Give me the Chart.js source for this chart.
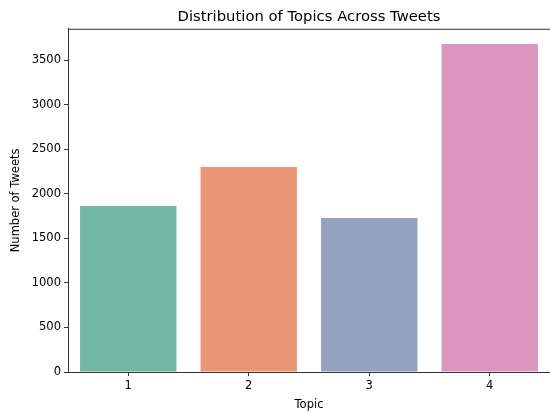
<!DOCTYPE html>
<html>
<head>
<meta charset="utf-8">
<script src="https://cdn.jsdelivr.net/npm/chart.js@4"></script>
<style>
  html, body { margin: 0; padding: 0; background: #fff; }
  #wrap { width: 550px; height: 412px; }
</style>
</head>
<body>
<div id="wrap"><canvas id="topicChart" width="550" height="412"></canvas></div>
<script>
// data
const topics = ["1", "2", "3", "4"];
const tweetCounts = [1862, 2300, 1728, 3679];
const barColors = ["#72b7a1", "#e99675", "#95a3c3", "#db96c0"];
const yTicks = [0, 500, 1000, 1500, 2000, 2500, 3000, 3500];
const yMax = 3851;

const font = "'DejaVu Sans', sans-serif";

// matplotlib-style top spine
const frameLine = {
    id: "frameLine",
    afterDraw(chart) {
        const { ctx, chartArea } = chart;
        ctx.save();
        ctx.strokeStyle = "#333";
        ctx.lineWidth = 1;
        ctx.beginPath();
        ctx.moveTo(chartArea.left, chartArea.top + 0.5);
        ctx.lineTo(chartArea.right, chartArea.top + 0.5);
        ctx.stroke();
        ctx.restore();
    }
};

const ctx = document.getElementById("topicChart").getContext("2d");
new Chart(ctx, {
    type: "bar",
    data: {
        labels: topics,
        datasets: [{
            data: tweetCounts,
            backgroundColor: barColors,
            borderWidth: 0,
            categoryPercentage: 1.0,
            barPercentage: 0.8
        }]
    },
    options: {
        responsive: false,
        animation: false,
        layout: { padding: { left: 0, right: 0, top: 0, bottom: 0 } },
        plugins: {
            legend: { display: false },
            tooltip: { enabled: false },
            title: {
                display: true,
                fullSize: false,
                text: "Distribution of Topics Across Tweets",
                color: "#000",
                font: { family: font, size: 14.8, weight: "normal", lineHeight: 1.2 },
                padding: { top: 8, bottom: 3 }
            }
        },
        scales: {
            x: {
                grid: {
                    offset: false,
                    drawOnChartArea: false,
                    tickLength: 4,
                    color: "#333"
                },
                border: { color: "#333", width: 1 },
                ticks: { color: "#000", padding: 3, font: { family: font, size: 11.5 } },
                title: {
                    display: true,
                    text: "Topic",
                    color: "#000",
                    font: { family: font, size: 11.5 },
                    padding: { top: 0, bottom: 0 }
                },
                afterFit: s => { s.height = 40; }
            },
            y: {
                min: 0,
                max: yMax,
                afterBuildTicks: s => { s.ticks = yTicks.map(v => ({ value: v })); },
                grid: {
                    drawOnChartArea: false,
                    tickLength: 4,
                    color: "#333"
                },
                border: { color: "#333", width: 1 },
                ticks: {
                    color: "#000",
                    padding: 3,
                    font: { family: font, size: 11.5 },
                    callback: v => String(v)
                },
                title: {
                    display: true,
                    text: "Number of Tweets",
                    color: "#000",
                    font: { family: font, size: 11.5 },
                    padding: { top: 9, bottom: 0 }
                },
                afterFit: s => { s.width = 68; }
            }
        }
    },
    plugins: [frameLine]
});
</script>
</body>
</html>
